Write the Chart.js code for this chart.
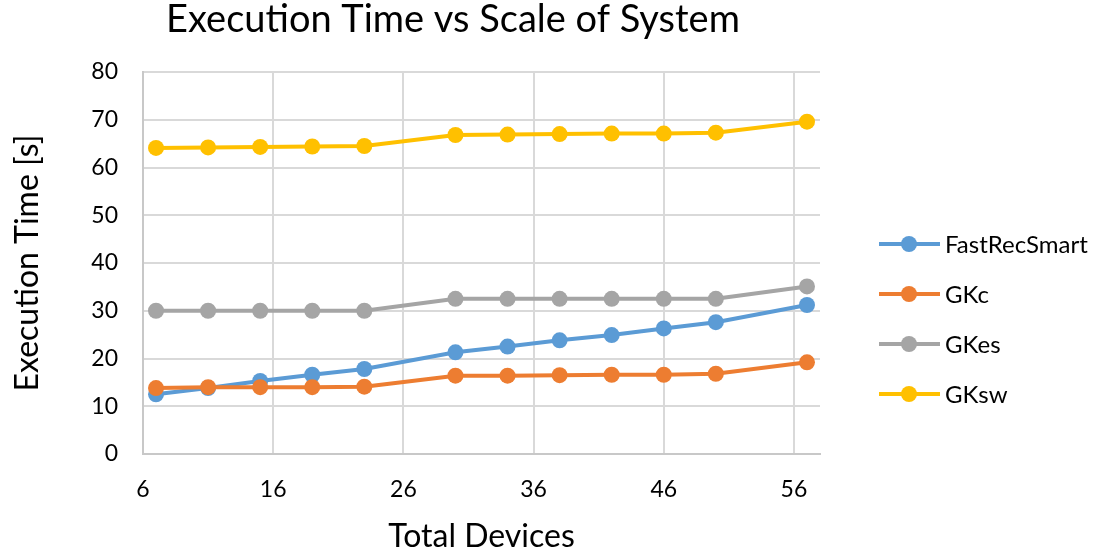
<!DOCTYPE html>
<html>
<head>
<meta charset="utf-8">
<script src="https://cdn.jsdelivr.net/npm/chart.js@4"></script>
<style>
  html, body { margin: 0; padding: 0; background: #fff; }
  #wrap { width: 1099px; height: 556px; }
</style>
</head>
<body>
<div id="wrap"><canvas id="chart"></canvas></div>
<script>
// --- data ---
const devices = [7, 11, 15, 19, 23, 30, 34, 38, 42, 46, 50, 57];
const fastRecSmart = [12.5, 13.8, 15.3, 16.6, 17.8, 21.3, 22.5, 23.8, 24.9, 26.3, 27.6, 31.2];
const gkc = [13.8, 14.0, 14.0, 14.0, 14.1, 16.4, 16.4, 16.5, 16.6, 16.6, 16.8, 19.2];
const gkes = [30.0, 30.0, 30.0, 30.0, 30.0, 32.5, 32.5, 32.5, 32.5, 32.5, 32.5, 35.1];
const gksw = [64.1, 64.2, 64.3, 64.4, 64.5, 66.8, 66.9, 67.0, 67.1, 67.1, 67.3, 69.6];

const seriesNames = ["FastRecSmart", "GKc", "GKes", "GKsw"];
const seriesValues = [fastRecSmart, gkc, gkes, gksw];
const seriesColors = ["#5B9BD5", "#ED7D31", "#A5A5A5", "#FFC000"];

const xTicks = [6, 16, 26, 36, 46, 56];
const yTicks = [0, 10, 20, 30, 40, 50, 60, 70, 80];

const chartTitle = "Execution Time vs Scale of System";
const xTitle = "Total Devices";
const yTitle = "Execution Time [s]";

const FONT = "Lato, 'Liberation Sans', sans-serif";
const GRID = "#d9d9d9";

// titel + legenda digambar sendiri supaya posisinya pas
const titleAndLegend = {
  id: "titleAndLegend",
  afterDraw(chart) {
    const ctx = chart.ctx;
    ctx.save();
    ctx.fillStyle = "#000";
    ctx.textAlign = "center";
    ctx.textBaseline = "middle";
    ctx.font = "38px " + FONT;
    ctx.fillText(chartTitle, 453, 20);

    // legenda di kanan
    ctx.font = "24px " + FONT;
    ctx.textAlign = "left";
    chart.data.datasets.forEach((ds, i) => {
      const y = 244 + i * 50;
      ctx.strokeStyle = ds.borderColor;
      ctx.lineWidth = 4;
      ctx.beginPath();
      ctx.moveTo(879, y);
      ctx.lineTo(940, y);
      ctx.stroke();
      ctx.fillStyle = ds.backgroundColor;
      ctx.beginPath();
      ctx.arc(909, y, 8, 0, Math.PI * 2);
      ctx.fill();
      ctx.fillStyle = "#000";
      ctx.fillText(ds.label, 945, y + 1);
    });
    ctx.restore();
  }
};

const datasets = seriesNames.map((name, i) => ({
  label: name,
  data: devices.map((d, j) => ({ x: d, y: seriesValues[i][j] })),
  borderColor: seriesColors[i],
  backgroundColor: seriesColors[i],
  borderWidth: 4,
  pointRadius: 8,
  pointHoverRadius: 8,
  pointBorderWidth: 0,
  tension: 0,
  order: seriesNames.length - i, // seri berikutnya di atas
}));

const ctx = document.getElementById("chart").getContext("2d");
new Chart(ctx, {
  type: "line",
  data: { datasets },
  options: {
    responsive: true,
    maintainAspectRatio: false,
    animation: false,
    layout: { padding: { top: 72, right: 279, bottom: 0, left: 0 } },
    plugins: {
      legend: { display: false },
      title: { display: false },
      tooltip: { enabled: false },
    },
    scales: {
      x: {
        type: "linear",
        min: 6,
        max: 58,
        afterBuildTicks: (scale) => { scale.ticks = xTicks.map(v => ({ value: v })); },
        afterFit: (scale) => { scale.height = 102; },
        grid: { color: GRID, lineWidth: 2, drawTicks: false },
        border: { color: "#c8c8c8", width: 2 },
        ticks: { color: "#000", padding: 22, font: { family: FONT, size: 23 } },
        title: {
          display: true,
          text: xTitle,
          color: "#000",
          font: { family: FONT, size: 32 },
          padding: { top: 0, bottom: 0 },
        },
      },
      y: {
        min: 0,
        max: 80,
        afterBuildTicks: (scale) => { scale.ticks = yTicks.map(v => ({ value: v })); },
        afterFit: (scale) => { scale.width = 143; },
        grid: { color: GRID, lineWidth: 2, drawTicks: false },
        border: { color: "#c8c8c8", width: 2 },
        ticks: { color: "#000", padding: 25, font: { family: FONT, size: 23 } },
        title: {
          display: true,
          text: yTitle,
          color: "#000",
          font: { family: FONT, size: 32 },
          padding: { top: 8, bottom: 0 },
        },
      },
    },
  },
  plugins: [titleAndLegend],
});
</script>
</body>
</html>
